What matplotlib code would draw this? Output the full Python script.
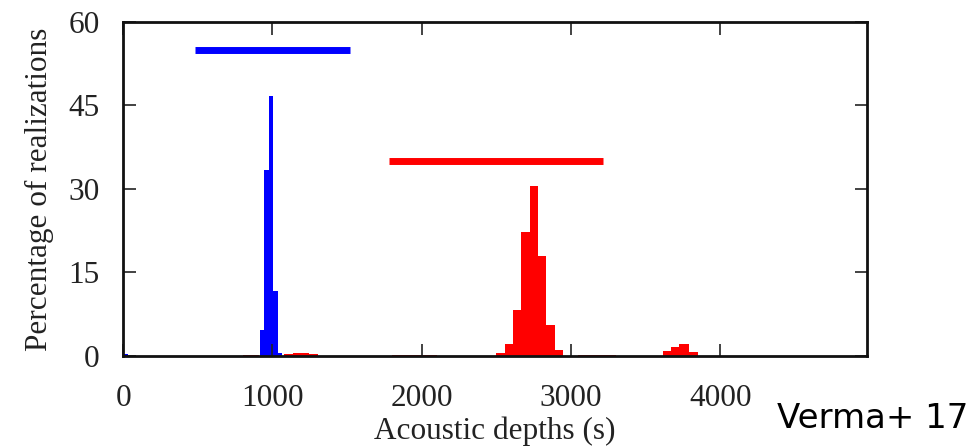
import numpy as np
import matplotlib
matplotlib.use("Agg")
import matplotlib.pyplot as plt

# blue histogram (first acoustic depth)
blue_edges = [0, 30, 915, 945, 975, 1005, 1035, 1065]
blue_vals = [0.4, 0, 4.7, 33.4, 46.7, 11.7, 0.5]

# red histogram (second acoustic depth)
red_edges = [800, 856, 912, 1080, 1136, 1192, 1248, 1304, 1800, 2100, 2499, 2555,
             2611, 2667, 2723, 2779, 2835, 2891, 2947, 3050, 3300, 3614, 3669,
             3726, 3788, 3848]
red_vals = [0.2, 0.2, 0, 0.3, 0.5, 0.5, 0.3, 0, 0.15, 0, 0.6, 2.1, 8.3, 22.3,
            30.6, 17.9, 5.6, 1.1, 0, 0.15, 0, 0.9, 1.7, 2.1, 0.8]

# search ranges shown as horizontal bars
blue_range = (482, 1518, 55)
red_range = (1779, 3217, 35)

xticks = [0, 1000, 2000, 3000, 4000]
yticks = [0, 15, 30, 45, 60]

plt.rcParams['font.family'] = ['Liberation Serif', 'DejaVu Serif']

fig = plt.figure(figsize=(9.77, 4.47), dpi=100)
ax = fig.add_axes([0.126, 0.2036, 0.761, 0.7474])

ax.stairs(blue_vals, blue_edges, fill=True, color=(0, 0, 1), lw=0)
ax.stairs(red_vals, red_edges, fill=True, color=(1, 0, 0), lw=0)

ax.hlines(blue_range[2], blue_range[0], blue_range[1], color=(0, 0, 1), lw=5,
          capstyle='butt')
ax.hlines(red_range[2], red_range[0], red_range[1], color=(1, 0, 0), lw=5,
          capstyle='butt')

ax.set_xlim(0, 4980)
ax.set_ylim(0, 60)
ax.set_xticks(xticks)
ax.set_yticks(yticks)
ax.tick_params(direction='in', length=9, width=1.2, top=True, right=True,
               labelsize=22.5, colors='#222222')
ax.tick_params(axis='x', pad=20)
ax.tick_params(axis='y', pad=17)
for s in ax.spines.values():
    s.set_linewidth(2)
    s.set_color('#111111')

ax.set_xlabel('Acoustic depths (s)', fontsize=22.5, labelpad=3, color='#222222')
ax.set_ylabel('Percentage of realizations', fontsize=22.5, labelpad=10,
              color='#222222')

fig.text(0.795, 0.0425, 'Verma+ 17', fontsize=24.5, family='DejaVu Sans',
         color='black', va='baseline')

fig.savefig('out.png', dpi=100)
